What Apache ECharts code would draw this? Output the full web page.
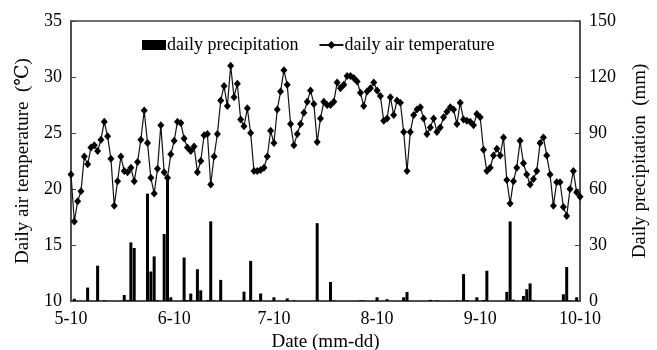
<!DOCTYPE html>
<html>
<head>
<meta charset="utf-8">
<script src="https://cdn.jsdelivr.net/npm/echarts@6/dist/echarts.min.js"></script>
<style>
  html, body { margin: 0; padding: 0; background: #fff; }
  #chart { width: 657px; height: 350px; }
</style>
</head>
<body>
<div id="chart"></div>
<script>
// daily air temperature (°C), one value per day from 5-10 to 10-10
const temperature = [
  21.3, 17.1, 18.9, 19.8, 22.9, 22.2, 23.7, 23.9, 23.4, 24.4, 26.0, 24.7, 22.7, 18.5, 20.7, 22.9,
  21.6, 21.5, 21.9, 20.7, 22.4, 24.4, 27.0,
  24.1, 21.0, 19.6, 21.8, 25.7, 21.5, 21.0, 23.1, 24.3, 26.0, 25.9, 24.5, 23.7, 23.4, 23.8, 21.5,
  22.5, 24.8, 24.9, 20.4, 22.9, 24.9, 27.9, 29.2, 27.4, 31.0, 28.2,
  29.4, 26.2, 25.6, 27.2, 25.0, 21.6, 21.6, 21.7, 21.9, 22.9, 25.2, 24.1, 27.1, 28.7, 30.6, 29.3,
  25.8, 23.9, 24.9, 25.8, 26.8, 27.8, 28.8, 27.6, 24.2, 26.3, 27.8,
  27.5, 27.5, 27.8, 29.5, 29.0, 29.3, 30.1, 30.1, 29.9, 29.6, 28.6, 27.4, 28.7, 29.0, 29.5, 28.8,
  28.3, 26.1, 26.3, 28.2, 26.6, 27.9, 27.7, 25.1, 21.6, 25.1, 26.6,
  27.1, 27.3, 26.3, 24.9, 25.5, 26.3, 25.1, 25.5, 26.4, 26.9, 27.3, 27.1, 25.8, 27.7, 26.2, 26.1,
  26.0, 25.7, 26.7, 26.4, 23.5, 21.6, 21.9, 23.0, 23.6, 23.0,
  24.6, 20.8, 18.7, 20.7, 21.9, 24.3, 22.3, 21.3, 20.4, 20.9, 21.6, 24.1, 24.6, 23.0, 21.3, 18.5,
  20.6, 20.6, 18.4, 17.6, 20.0, 21.6, 19.7, 19.3
];

// rainy days (index from 5-10) and daily precipitation (mm)
const rainDay = [1, 5, 8, 10, 16, 17, 18, 19, 23, 24, 25, 26, 28, 29, 30, 34, 35, 36, 38, 39, 41, 42, 43, 45,
  52, 54, 55, 56, 57, 61, 65, 67, 74, 78, 79, 87, 88, 92, 95, 100, 101,
  108, 110, 116, 118, 119, 122, 124, 125, 131, 132, 133, 136, 137, 138, 139, 148, 149, 150, 152];
const rainMm = [1.2, 7.2, 18.9, 0.3, 3.2, 0.5, 31.4, 28.4, 57.5, 15.8, 23.9, 0.4, 35.9, 66.8, 2.0, 23.3, 0.5, 4.0, 17.0, 5.7, 0.4, 42.7, 0.3, 11.3,
  5.0, 21.5, 0.5, 0.3, 4.0, 2.0, 1.4, 0.3, 41.7, 10.2, 0.3, 0.3, 0.3, 2.0, 1.0, 2.0, 4.8,
  0.6, 0.3, 0.3, 14.4, 0.4, 2.0, 0.5, 16.2, 4.9, 42.6, 0.7, 2.7, 6.3, 9.4, 0.3, 3.6, 18.2, 0.3, 2.0];

const tickLabels = ['5-10', '6-10', '7-10', '8-10', '9-10', '10-10'];

// one category per day
const days = [];
for (let i = 0; i < temperature.length; i++) {
  const d = new Date(Date.UTC(2019, 4, 10) + i * 86400000);
  days.push((d.getUTCMonth() + 1) + '-' + d.getUTCDate());
}
const precipitation = days.map(() => 0);
rainDay.forEach((d, k) => { precipitation[d] = rainMm[k]; });

const serif = "'Liberation Serif', 'Times New Roman', 'DejaVu Serif', serif";
const axisColor = '#444';

const chart = echarts.init(document.getElementById('chart'), null, { renderer: 'canvas' });

chart.setOption({
  animation: false,
  backgroundColor: '#fff',
  textStyle: { fontFamily: serif, color: '#000' },
  grid: {
    left: 71, right: 77, top: 21, bottom: 49,
    outerBoundsMode: 'none',
    containLabel: false,
    show: true, borderColor: axisColor, borderWidth: 1.5, backgroundColor: 'transparent'
  },
  legend: {
    left: 137, top: 31,
    itemGap: 20, itemWidth: 24, itemHeight: 10,
    textStyle: { fontFamily: serif, fontSize: 18, color: '#000', padding: [0, 0, 0, -4] },
    data: [
      { name: 'daily precipitation', icon: 'rect' },
      { name: 'daily air temperature' }
    ]
  },
  xAxis: {
    type: 'category',
    data: days,
    boundaryGap: false,
    name: 'Date (mm-dd)',
    nameLocation: 'middle',
    nameGap: 31,
    nameTextStyle: { fontFamily: serif, fontSize: 19, color: '#000' },
    axisLine: { lineStyle: { color: axisColor, width: 1.5 } },
    axisTick: { show: false },
    axisLabel: {
      fontFamily: serif, fontSize: 18, color: '#000', margin: 9,
      interval: (idx, val) => tickLabels.includes(val)
    },
    splitLine: { show: false }
  },
  yAxis: [
    {
      type: 'value',
      min: 10, max: 35, interval: 5,
      name: 'Daily air temperature  (℃)',
      nameLocation: 'middle',
      nameGap: 38,
      nameTextStyle: { fontFamily: serif, fontSize: 19, color: '#000' },
      axisLine: { show: true, lineStyle: { color: axisColor, width: 1.5 } },
      axisTick: { show: true, inside: true, length: 5, lineStyle: { color: axisColor } },
      axisLabel: { fontFamily: serif, fontSize: 18, color: '#000', margin: 9 },
      splitLine: { show: false }
    },
    {
      type: 'value',
      min: 0, max: 150, interval: 30,
      name: 'Daily precipitation  (mm)',
      nameLocation: 'middle',
      nameGap: 51,
      nameRotate: 90,
      nameTextStyle: { fontFamily: serif, fontSize: 19, color: '#000' },
      axisLine: { show: true, lineStyle: { color: axisColor, width: 1.5 } },
      axisTick: { show: true, inside: true, length: 5, lineStyle: { color: axisColor } },
      axisLabel: { fontFamily: serif, fontSize: 18, color: '#000', margin: 9 },
      splitLine: { show: false }
    }
  ],
  series: [
    {
      name: 'daily precipitation',
      type: 'bar',
      yAxisIndex: 1,
      data: precipitation,
      barWidth: 3,
      itemStyle: { color: '#000' }
    },
    {
      name: 'daily air temperature',
      type: 'line',
      yAxisIndex: 0,
      data: temperature,
      symbol: 'diamond',
      symbolSize: [7, 8],
      showAllSymbol: true,
      lineStyle: { color: '#111', width: 1.2 },
      itemStyle: { color: '#000' },
      z: 3
    }
  ]
});
</script>
</body>
</html>
